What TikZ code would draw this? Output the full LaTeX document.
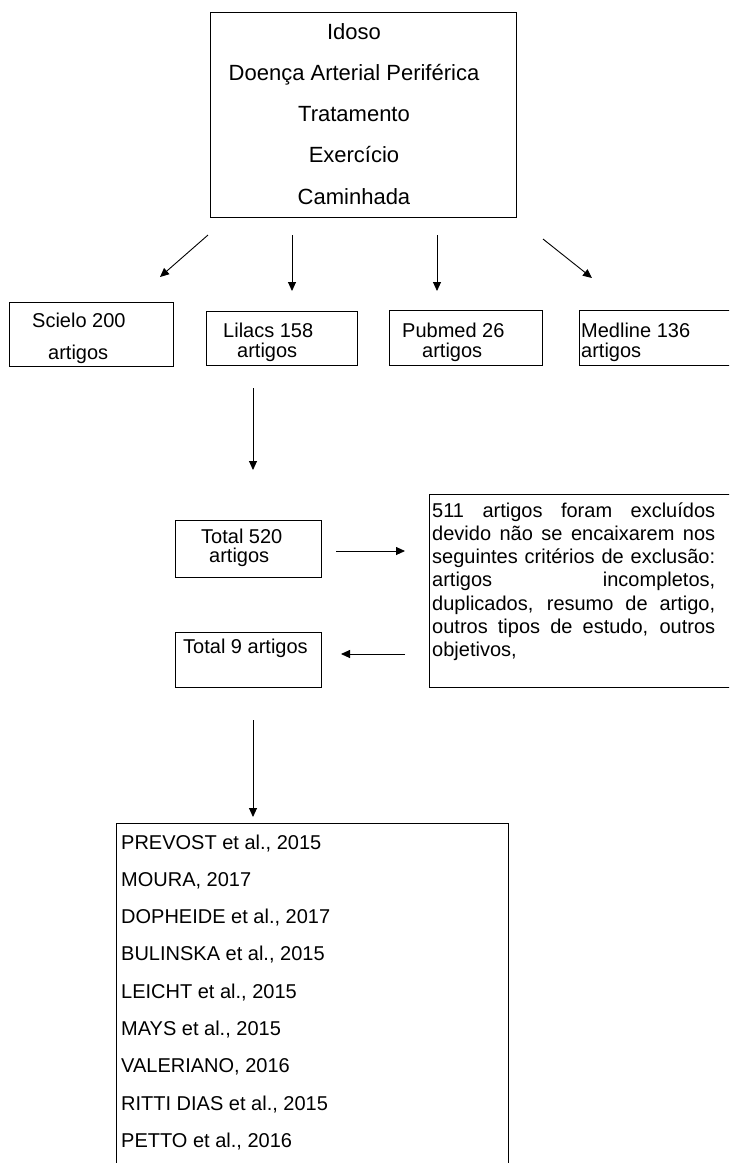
\documentclass[tikz,border=0pt]{standalone}
\usepackage{fontspec}
\setmainfont{Liberation Sans}
\usetikzlibrary{arrows.meta}
\newcommand{\jline}[1]{\makebox[283pt][s]{#1}}
\tikzset{
  box/.style={draw=black, line width=1.3pt, inner sep=0pt, anchor=north west},
  txt/.style={inner sep=0pt, anchor=base west, font=\fontsize{20}{23}\selectfont},
  toptxt/.style={inner sep=0pt, anchor=base, font=\fontsize{22}{26}\selectfont},
  arr/.style={draw=black, line width=0.9pt, -{Triangle[length=9pt,width=8pt]}},
}
\begin{document}
\begin{tikzpicture}[x=1pt,y=-1pt]
\useasboundingbox (0,0) rectangle (729,1163);
\clip (0,0) rectangle (729,1163);
% top box
\node[box, minimum width=306pt, minimum height=205pt] (top) at (210,12) {};
\node[toptxt] (t1) at (354,39) {Idoso};
\node[toptxt] (t2) at (354,80) {Doença Arterial Periférica};
\node[toptxt] (t3) at (354,121) {Tratamento};
\node[toptxt] (t4) at (354,162) {Exercício};
\node[toptxt] (t5) at (354,204) {Caminhada};
% arrows from top
\coordinate (a1s) at (208,235); \coordinate (a1e) at (160,277);
\coordinate (a2s) at (292,235); \coordinate (a2e) at (292,291);
\coordinate (a3s) at (437,235); \coordinate (a3e) at (437,291);
\coordinate (a4s) at (543,239); \coordinate (a4e) at (592,278);
\draw[arr] (a1s) -- (a1e);
\draw[arr] (a2s) -- (a2e);
\draw[arr] (a3s) -- (a3e);
\draw[arr] (a4s) -- (a4e);
% database boxes
\node[box, minimum width=164pt, minimum height=64pt] (scielo) at (9,302) {};
\node[txt] (s1) at (32,327) {Scielo 200};
\node[txt] (s2) at (48,359) {artigos};
\node[box, minimum width=151pt, minimum height=54pt] (lilacs) at (206,311) {};
\node[txt] (l1) at (223,337) {Lilacs 158};
\node[txt] (l2) at (237,357) {artigos};
\node[box, minimum width=153pt, minimum height=55pt] (pubmed) at (389,310) {};
\node[txt] (p1) at (402,337) {Pubmed 26};
\node[txt] (p2) at (422,357) {artigos};
\node[box, minimum width=160pt, minimum height=55pt] (medline) at (579,310) {};
\node[txt] (m1) at (581,337) {Medline 136};
\node[txt] (m2) at (581,357) {artigos};
% down arrow
\coordinate (a5s) at (253,388); \coordinate (a5e) at (253,470);
\draw[arr] (a5s) -- (a5e);
% total 520
\node[box, minimum width=146pt, minimum height=57pt] (tot) at (175,520) {};
\node[txt] (tt1) at (201,543) {Total 520};
\node[txt] (tt2) at (209,562) {artigos};
\coordinate (a6s) at (336,551); \coordinate (a6e) at (405,551);
\draw[arr] (a6s) -- (a6e);
% exclusion box
\node[box, minimum width=320pt, minimum height=193pt] (excl) at (429,494) {};
\node[txt] (e1) at (432,517) {\jline{511 artigos foram excluídos}};
\node[txt] (e2) at (432,540.3) {\jline{devido não se encaixarem nos}};
\node[txt] (e3) at (432,563.6) {\jline{seguintes critérios de exclusão:}};
\node[txt] (e4) at (432,586.9) {\jline{artigos \hfill incompletos,}};
\node[txt] (e5) at (432,610.2) {\jline{duplicados, resumo de artigo,}};
\node[txt] (e6) at (432,633.5) {\jline{outros tipos de estudo, outros}};
\node[txt] (e7) at (432,656.8) {objetivos,};
% total 9
\coordinate (a7s) at (405,654); \coordinate (a7e) at (341,654);
\draw[arr] (a7s) -- (a7e);
\node[box, minimum width=146pt, minimum height=55pt] (tot9) at (175,632) {};
\node[txt] (n9) at (183,653) {Total 9 artigos};
% arrow to list
\coordinate (a8s) at (253,720); \coordinate (a8e) at (253,817);
\draw[arr] (a8s) -- (a8e);
% list box
\node[box, minimum width=392pt, minimum height=400pt] (list) at (116,823) {};
\node[txt] (r1) at (121,849) {PREVOST et al., 2015};
\node[txt] (r2) at (121,886.3) {MOURA, 2017};
\node[txt] (r3) at (121,923.6) {DOPHEIDE et al., 2017};
\node[txt] (r4) at (121,960.9) {BULINSKA et al., 2015};
\node[txt] (r5) at (121,998.2) {LEICHT et al., 2015};
\node[txt] (r6) at (121,1035.5) {MAYS et al., 2015};
\node[txt] (r7) at (121,1072.8) {VALERIANO, 2016};
\node[txt] (r8) at (121,1110.1) {RITTI DIAS et al., 2015};
\node[txt] (r9) at (121,1147.4) {PETTO et al., 2016};
\end{tikzpicture}
\end{document}
